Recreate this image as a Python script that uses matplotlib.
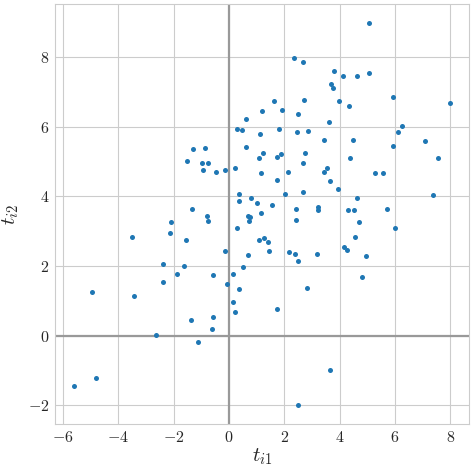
import matplotlib
matplotlib.use("Agg")
import matplotlib.pyplot as plt
import seaborn as sns

# scores on the first two components (t_i1, t_i2)
t1 = [5.07, 2.36, 2.69, 3.81, 4.13, 4.64, 5.07, 3.70, 3.77, 5.93,
      8.00, 1.64, 2.72, 3.99, 1.20, 1.93, 2.51, 4.35, 0.63, 3.63,
      6.27, 6.12, 0.30, 0.48, 1.13, 1.82, 2.47, 2.87, 3.45, 4.49,
      5.93, 7.10, 7.57, -1.29, -0.86, 0.63, -1.51, -0.97, -0.75, -0.93,
      -0.46, -0.13, 0.23, 1.24, 1.10, 1.75, 1.89, 2.76, 2.69, 4.39,
      1.17, 2.14, 3.45, 3.55, 5.29, 5.58, 1.75, 3.66, 3.95, 7.39,
      2.04, 2.69, 0.37, 0.37, 0.81, 1.02, 1.57, 4.64, 2.43, 3.23,
      3.23, 4.31, 4.53, 5.72, 1.17, 0.70, 0.77, 0.73, 2.43, -1.33,
      -0.78, -0.75, -2.09, 0.30, 4.71, 6.01, -2.12, -3.50, -1.54, 1.07,
      1.28, 1.42, 1.46, -0.13, 0.70, 2.18, 2.40, 2.51, 3.19, 4.57,
      4.17, 4.28, 4.96, -2.38, -1.62, 0.52, -1.87, -0.57, 0.16, -2.38,
      -0.06, 4.82, 2.83, -4.94, -3.42, 0.37, 0.16, 1.75, 0.23, -0.57,
      -1.36, -0.60, -2.63, -1.11, 3.66, 2.51, -4.80, -5.59]
t2 = [8.97, 7.97, 7.85, 7.60, 7.45, 7.45, 7.54, 7.22, 7.11, 6.85,
      6.68, 6.73, 6.76, 6.73, 6.45, 6.48, 6.36, 6.59, 6.22, 6.13,
      6.02, 5.85, 5.93, 5.90, 5.79, 5.93, 5.85, 5.87, 5.62, 5.62,
      5.44, 5.59, 5.10, 5.36, 5.39, 5.41, 5.01, 4.96, 4.96, 4.75,
      4.70, 4.75, 4.81, 5.24, 5.10, 5.13, 5.21, 5.24, 4.96, 5.10,
      4.67, 4.70, 4.70, 4.81, 4.67, 4.67, 4.47, 4.44, 4.21, 4.04,
      4.07, 4.12, 4.07, 3.87, 3.95, 3.81, 3.75, 3.95, 3.64, 3.69,
      3.61, 3.61, 3.61, 3.64, 3.52, 3.43, 3.41, 3.29, 3.32, 3.64,
      3.43, 3.29, 3.26, 3.09, 3.26, 3.09, 2.95, 2.83, 2.75, 2.75,
      2.80, 2.69, 2.43, 2.43, 2.32, 2.40, 2.34, 2.14, 2.34, 2.83,
      2.55, 2.46, 2.29, 2.06, 2.00, 1.97, 1.77, 1.74, 1.77, 1.54,
      1.48, 1.68, 1.37, 1.25, 1.14, 1.34, 0.97, 0.77, 0.68, 0.54,
      0.45, 0.19, 0.02, -0.18, -0.98, -1.99, -1.21, -1.44]

sns.set_style("whitegrid")
plt.rcParams["font.family"] = "serif"
plt.rcParams["font.serif"] = ["cmr10", "DejaVu Serif"]
plt.rcParams["mathtext.fontset"] = "cm"
plt.rcParams["axes.formatter.use_mathtext"] = True
plt.rcParams["axes.unicode_minus"] = True

fig, ax = plt.subplots(figsize=(4.73, 4.73), dpi=100)
fig.subplots_adjust(left=0.117, right=0.992, top=0.991, bottom=0.104)

ax.axhline(0, color="#999999", lw=1.6, zorder=1)
ax.axvline(0, color="#999999", lw=1.6, zorder=1)
ax.scatter(t1, t2, s=13, color="#1f77b4", linewidths=0, zorder=3)

ax.set_xlim(-6.28, 8.69)
ax.set_ylim(-2.53, 9.52)
ax.set_xticks([-6, -4, -2, 0, 2, 4, 6, 8])
ax.set_yticks([-2, 0, 2, 4, 6, 8])
ax.tick_params(labelsize=11.5, length=0, pad=4.5)
ax.set_xlabel(r"$t_{i1}$", fontsize=15, labelpad=1)
ax.set_ylabel(r"$t_{i2}$", fontsize=15, labelpad=5)
for s in ax.spines.values():
    s.set_color("#cccccc")

fig.savefig("out.png", dpi=100)
